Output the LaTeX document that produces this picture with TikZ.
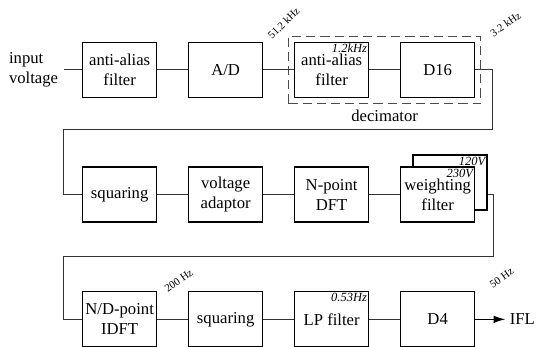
\documentclass[tikz,border=0pt]{standalone}
\usepackage{fontspec}
\setmainfont{Liberation Serif}
\usepackage{tikz}
\usetikzlibrary{arrows.meta,calc,positioning,fit}
\tikzset{
    >={Latex[length=7pt,width=4.5pt]},
    blokk/.style={
           rectangle,
           draw=black, line width=0.8pt,
           fill=white,
           minimum width=44.4pt,
           minimum height=33pt,
           inner sep=1pt,
           align=center},
    linje/.style={
           draw=black!80,
           line width=0.6pt},
    pil/.style={
           ->,
           draw=black,
           line width=0.6pt,
           shorten >=1pt},
    frekv/.style={
           font=\fontsize{6.5}{7}\selectfont,
           inner sep=0pt},
    hjorne/.style={
           font=\fontsize{7.5}{8}\selectfont\itshape,
           inner sep=1.2pt},
    ramme/.style={
           draw=black!70, line width=0.7pt,
           dash pattern=on 5.5pt off 3pt,
           inner sep=3.3pt}
}

\begin{document}
\begin{tikzpicture}[node distance=18.4pt]
    \useasboundingbox (-71.8pt,42pt) rectangle (250.4pt,-166.2pt);
    % first row
    \node[blokk] (aa1) at (0,0) {anti-alias\\filter};
    \node[left=10.8pt of aa1, align=left] (inn) {input\\voltage};
    \node[blokk, right=of aa1] (ad) {A/D};
    \node[blokk, right=of ad] (aa2) {anti-alias\\filter};
    \node[blokk, right=of aa2] (d16) {D16};
    \node[ramme, fit=(aa2)(d16)] (dec) {};
    \node[below=0pt of dec] (declab) {decimator};
    \node[hjorne, anchor=north east] (f12) at (aa2.north east) {1.2kHz};
    \node[frekv, rotate=45] (f512) at ([shift={(12.2pt,11.2pt)}]ad.north east) {51.2 kHz};
    \node[frekv, rotate=35] (f32) at ([shift={(18.2pt,10.6pt)}]d16.north east) {3.2 kHz};

    % second row
    \node[blokk, below=41pt of aa1] (sq1) {squaring};
    \node[blokk, right=of sq1] (va) {voltage\\adaptor};
    \node[blokk, right=of va] (dft) {N-point\\DFT};
    \node[blokk, right=of dft, xshift=7.4pt, yshift=7.2pt] (wfb) {};
    \node[blokk, right=of dft] (wf) {weighting\\filter};
    \node[hjorne, anchor=north east] (v120) at (wfb.north east) {120V};
    \node[hjorne, anchor=north east] (v230) at (wf.north east) {230V};

    % third row
    \node[blokk, below=41pt of sq1] (idft) {N/D-point\\IDFT};
    \node[blokk, right=of idft] (sq2) {squaring};
    \node[blokk, right=of sq2] (lp) {LP filter};
    \node[blokk, right=of lp] (d4) {D4};
    \node[right=19pt of d4, inner sep=1.5pt] (ifl) {IFL};
    \node[hjorne, anchor=north east] (f053) at (lp.north east) {0.53Hz};
    \node[frekv, rotate=35] (f200) at ([shift={(12.8pt,6.4pt)}]idft.north east) {200 Hz};
    \node[frekv, rotate=35] (f50) at ([shift={(15.8pt,8pt)}]d4.north east) {50 Hz};

    \draw[linje] (inn) -- (aa1);
    \draw[linje] (aa1) -- (ad);
    \draw[linje] (ad) -- (aa2);
    \draw[linje] (aa2) -- (d16);
    \draw[linje] (d16.east) -- ++(10.6pt,0) -- ++(0,-36pt) -| ([xshift=-11.2pt]sq1.west) -- (sq1.west);
    \draw[linje] (sq1) -- (va);
    \draw[linje] (va) -- (dft);
    \draw[linje] (dft) -- (wf);
    \draw[linje] (wfb.east |- wf.east) -- ++(3.8pt,0) -- ++(0,-37pt) -| ([xshift=-11.2pt]idft.west) -- (idft.west);
    \draw[linje] (idft) -- (sq2);
    \draw[linje] (sq2) -- (lp);
    \draw[linje] (lp) -- (d4);
    \draw[pil] (d4) -- (ifl);
\end{tikzpicture}
\end{document}
